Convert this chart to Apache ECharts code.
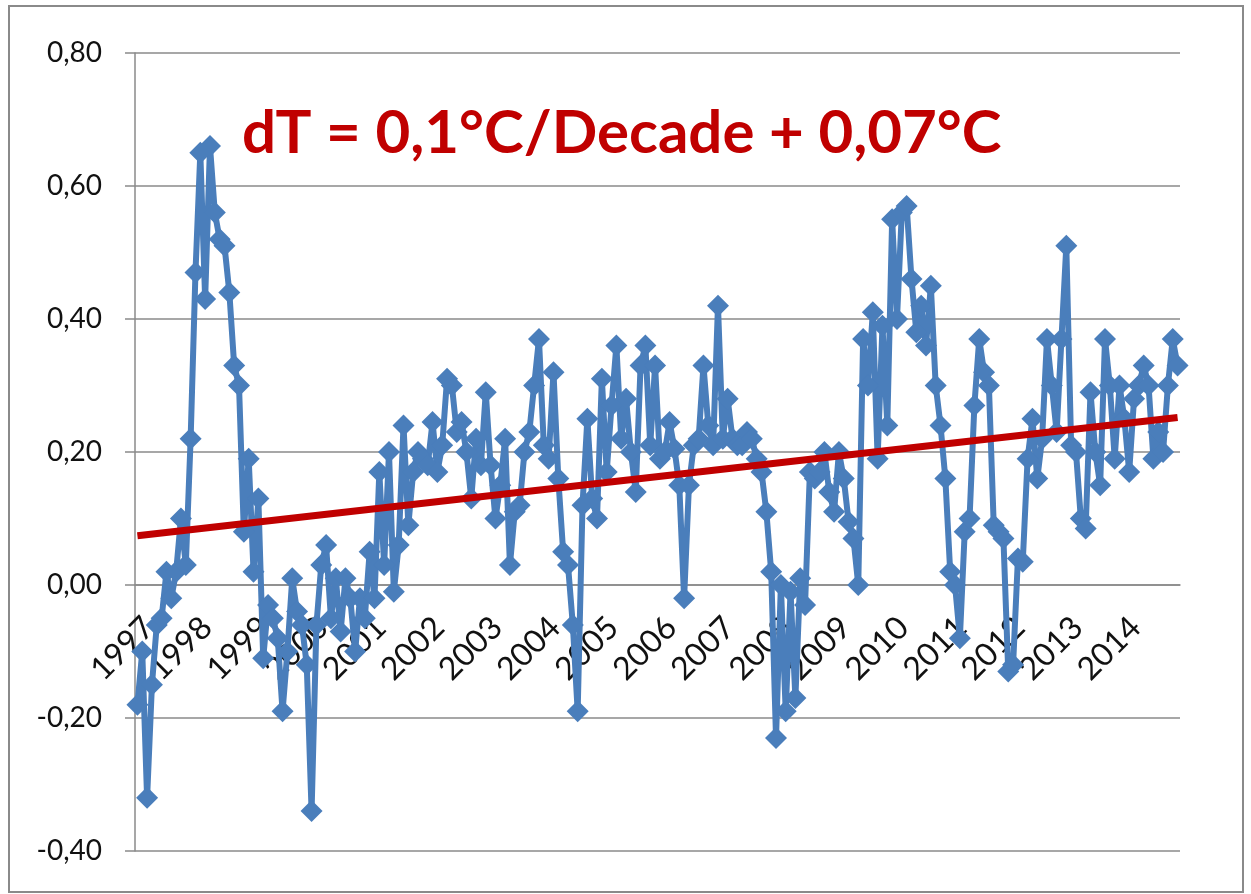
<!DOCTYPE html>
<html>
<head>
<meta charset="utf-8">
<script src="https://cdn.jsdelivr.net/npm/echarts@6/dist/echarts.min.js"></script>
<style>
  html, body { margin: 0; padding: 0; background: #fff; }
  #frame {
    position: absolute; left: 8px; top: 5px;
    width: 1232px; height: 884px;
    border: 2px solid #8a8a8a;
  }
  #chart { position: absolute; left: 0; top: 0; width: 1251px; height: 894px; }
</style>
</head>
<body>
<div id="frame"></div>
<div id="chart"></div>
<script>
// monthly anomalies 1997..2014, one row per year
const y1997 = [-0.18, -0.10, -0.32, -0.15, -0.06, -0.05, 0.02, -0.02, 0.02, 0.10, 0.03, 0.22]
const y1998 = [0.47, 0.65, 0.43, 0.66, 0.56, 0.52, 0.51, 0.44, 0.33, 0.30, 0.08, 0.19]
const y1999 = [0.02, 0.13, -0.11, -0.03, -0.05, -0.08, -0.19, -0.10, 0.01, -0.04, -0.06, -0.12]
const y2000 = [-0.34, -0.06, 0.03, 0.06, -0.05, 0.01, -0.07, 0.01, -0.02, -0.10, -0.02, -0.05]
const y2001 = [0.05, -0.02, 0.17, 0.03, 0.20, -0.01, 0.06, 0.24, 0.09, 0.17, 0.20, 0.19]
const y2002 = [0.18, 0.245, 0.17, 0.21, 0.31, 0.30, 0.23, 0.245, 0.20, 0.13, 0.22, 0.18]
const y2003 = [0.29, 0.18, 0.10, 0.15, 0.22, 0.03, 0.11, 0.12, 0.20, 0.23, 0.30, 0.37]
const y2004 = [0.21, 0.19, 0.32, 0.16, 0.05, 0.03, -0.06, -0.19, 0.12, 0.25, 0.13, 0.10]
const y2005 = [0.31, 0.17, 0.27, 0.36, 0.22, 0.28, 0.20, 0.14, 0.33, 0.36, 0.21, 0.33]
const y2006 = [0.19, 0.20, 0.245, 0.205, 0.15, -0.02, 0.15, 0.21, 0.22, 0.33, 0.24, 0.21]
const y2007 = [0.42, 0.22, 0.28, 0.22, 0.21, 0.21, 0.23, 0.22, 0.19, 0.17, 0.11, 0.02]
const y2008 = [-0.23, 0.00, -0.19, -0.01, -0.17, 0.01, -0.03, 0.17, 0.16, 0.17, 0.20, 0.14]
const y2009 = [0.11, 0.20, 0.16, 0.095, 0.07, 0.00, 0.37, 0.30, 0.41, 0.19, 0.39, 0.24]
const y2010 = [0.55, 0.40, 0.56, 0.57, 0.46, 0.38, 0.42, 0.36, 0.45, 0.30, 0.24, 0.16]
const y2011 = [0.02, 0.00, -0.08, 0.08, 0.10, 0.27, 0.37, 0.32, 0.30, 0.09, 0.08, 0.07]
const y2012 = [-0.13, -0.12, 0.04, 0.035, 0.19, 0.25, 0.16, 0.22, 0.37, 0.30, 0.23, 0.37]
const y2013 = [0.51, 0.21, 0.20, 0.10, 0.085, 0.29, 0.20, 0.15, 0.37, 0.30, 0.19, 0.30]
const y2014 = [0.25, 0.17, 0.28, 0.30, 0.33, 0.30, 0.19, 0.23, 0.20, 0.30, 0.37, 0.33]

const years = ['1997', '1998', '1999', '2000', '2001', '2002', '2003', '2004', '2005',
  '2006', '2007', '2008', '2009', '2010', '2011', '2012', '2013', '2014']

// linear trend, value at first and last month
const trendStart = 0.074
const trendEnd = 0.252

const titleText = 'dT = 0,1°C/Decade + 0,07°C'

const values = [].concat(y1997, y1998, y1999, y2000, y2001, y2002, y2003, y2004, y2005,
  y2006, y2007, y2008, y2009, y2010, y2011, y2012, y2013, y2014)

const categories = []
years.forEach(y => {
  for (let m = 1; m <= 12; m++) categories.push(y + '-' + m)
})

const yMin = -0.4
const yMax = 0.8

const gridTop = 53
const gridBottom = 43
const plotHeight = 894 - gridTop - gridBottom
// the category axis sits on the zero line, like in the original sheet
const zeroOffset = -plotHeight * (0 - yMin) / (yMax - yMin)

const chart = echarts.init(document.getElementById('chart'))

chart.setOption({
  animation: false,
  title: {
    text: titleText,
    left: 237,
    top: 99,
    textStyle: {
      color: '#c00000',
      fontFamily: 'Lato',
      fontWeight: 'bold',
      fontSize: 60
    }
  },
  grid: {
    left: 135,
    right: 71,
    top: gridTop,
    bottom: gridBottom,
    outerBoundsMode: 'none',
    containLabel: false
  },
  xAxis: {
    type: 'category',
    data: categories,
    boundaryGap: true,
    offset: zeroOffset,
    axisLine: {
      onZero: false,
      lineStyle: { color: '#8a8a8a', width: 1.5 }
    },
    axisTick: {
      interval: 0,
      length: 7,
      lineStyle: { color: '#b0a08c', width: 1 }
    },
    axisLabel: {
      interval: (i) => i % 12 === 0,
      formatter: (v) => v.split('-')[0],
      rotate: 45,
      margin: 26,
      verticalAlign: 'top',
      color: '#111',
      fontFamily: 'Lato',
      fontSize: 32
    },
    splitLine: { show: false }
  },
  yAxis: {
    type: 'value',
    min: yMin,
    max: yMax,
    interval: 0.2,
    axisLine: {
      show: true,
      onZero: false,
      lineStyle: { color: '#8a8a8a', width: 1.5 }
    },
    axisTick: {
      show: true,
      length: 10,
      lineStyle: { color: '#8a8a8a', width: 1.5 }
    },
    axisLabel: {
      formatter: (v) => v.toFixed(2).replace('.', ','),
      margin: 33,
      color: '#111',
      fontFamily: 'Lato',
      fontSize: 28
    },
    splitLine: {
      lineStyle: { color: '#8a8a8a', width: 1.5 }
    }
  },
  series: [
    {
      name: 'dT',
      type: 'line',
      data: values,
      symbol: 'diamond',
      symbolSize: 22,
      showAllSymbol: true,
      lineStyle: { color: '#4a7ebb', width: 6 },
      itemStyle: { color: '#4a7ebb' },
      z: 2
    },
    {
      name: 'trend',
      type: 'line',
      data: [[0, trendStart], [values.length - 1, trendEnd]],
      symbol: 'none',
      lineStyle: { color: '#c00000', width: 7 },
      z: 3
    }
  ]
})
</script>
</body>
</html>
